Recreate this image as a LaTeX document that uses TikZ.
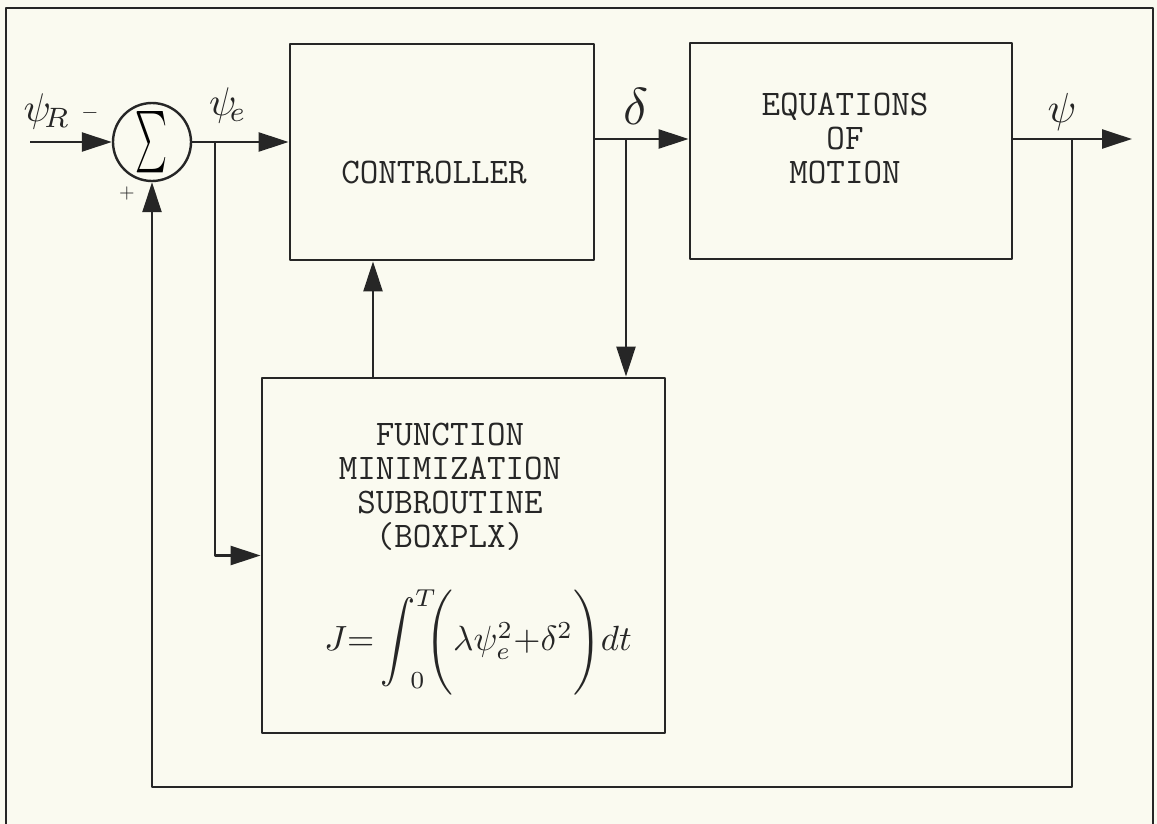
\documentclass[tikz,border=0pt]{standalone}
\usetikzlibrary{arrows.meta}
\definecolor{paper}{RGB}{250,250,240}
\definecolor{ink}{RGB}{38,38,38}
\begin{document}
\begin{tikzpicture}[x=1pt,y=-1pt,line join=round,
  blk/.style={draw=ink,line width=2.8pt,rectangle,inner sep=0pt},
  wire/.style={draw=ink,line width=2.4pt},
  arr/.style={wire,-{Triangle[length=30pt,width=19pt]}},
  tw/.style={text=ink,align=center,font=\fontsize{36}{34}\selectfont\ttfamily},
  lbl/.style={text=ink,inner sep=0pt}]
\fill[paper] (0,0) rectangle (1157,824);
\useasboundingbox (0,0) rectangle (1157,824);
\draw[ink,line width=1.4pt] (6,824) -- (6,8) -- (1153,8) -- (1153,824);
% blocks
\node[blk,minimum width=304pt,minimum height=216pt] (ctrl) at (442,152) {};
\node[blk,minimum width=322pt,minimum height=216pt] (eom) at (851,151) {};
\node[blk,minimum width=403pt,minimum height=355pt] (fm) at (463.5,555.5) {};
\node[circle,draw=ink,line width=2.4pt,minimum size=78pt,inner sep=0pt] (sum) at (152,142)
  {\resizebox{32pt}{46pt}{$\sum$}};
% block texts
\node[tw] (tctrl) at (434,173) {CONTROLLER};
\node[tw] (teom) at (845,138) {EQUATIONS\\OF\\MOTION};
\node[tw] (tfm) at (450,487) {FUNCTION\\MINIMIZATION\\SUBROUTINE\\(BOXPLX)};
\node[lbl] (cost) at (478,642)
  {\scalebox{3.5}{$J{=}\mathop{\vcenter{\hbox{\scalebox{1}[1.15]{$\displaystyle\int$}}}}\nolimits_{\!0}^{T}\!\!\Biggl(\lambda\psi_e^2{+}\delta^2\Biggr)dt$}};
% labels
\node[lbl] (lpsiR) at (47,112) {\scalebox{4}{$\psi_{\!R}$}};
\node[lbl] (lminus) at (90,113) {\scalebox{2.2}{$-$}};
\node[lbl] (lplus) at (127,193) {\scalebox{2}{$+$}};
\node[lbl] (lpsie) at (228,106) {\scalebox{4}{$\psi_{\!e}$}};
\node[lbl] (ldelta) at (636,106) {\scalebox{5.2}{$\delta$}};
\node[lbl] (lpsi) at (1062,112) {\scalebox{4.2}{$\psi$}};
% connectors
\coordinate (in) at (30,142);
\coordinate (ej) at (215,142);
\coordinate (dj) at (626,139);
\coordinate (pj) at (1072,139);
\coordinate (out) at (1132,139);
\coordinate (fb) at (1072,787);
\coordinate (up) at (373,378);
\draw[arr] (in) -- (sum.west);
\draw[arr] (sum.east) -- (sum.east -| ctrl.west);
\draw[arr] (ej) |- (fm.west);
\draw[arr] (dj -| ctrl.east) -- (dj -| eom.west);
\draw[arr] (dj) -- (dj |- fm.north);
\draw[arr] (up) -- (up |- ctrl.south);
\draw[arr] (pj -| eom.east) -- (out);
\draw[arr] (pj) -- (fb) -- (fb -| sum.south) -- (sum.south);
\end{tikzpicture}
\end{document}
